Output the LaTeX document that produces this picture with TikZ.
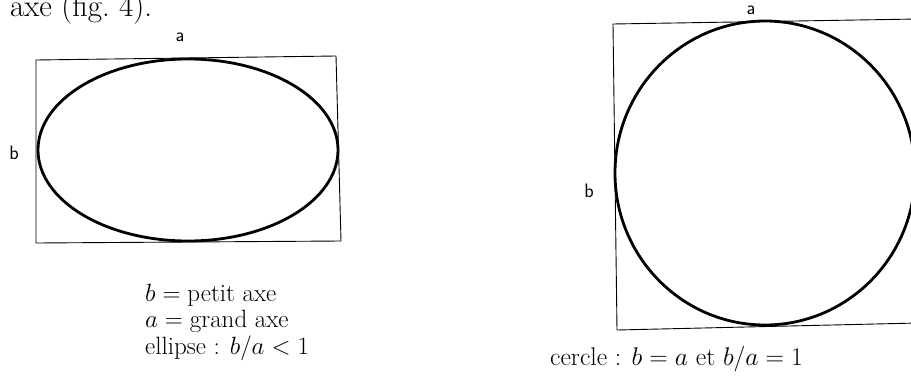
\RequirePackage{fix-cm}
\documentclass[tikz,border=0pt]{standalone}
\usepackage{fontspec}
\begin{document}
\begin{tikzpicture}[x=1pt,y=-1pt,
  thinrect/.style={line width=0.9pt, line join=miter},
  curve/.style={line width=2.8pt},
  lab/.style={font=\fontsize{19.5}{22}\selectfont\sffamily, inner sep=0pt},
  txt/.style={font=\fontsize{25}{30}\selectfont, inner sep=0pt, anchor=base west},
  ctxt/.style={font=\fontsize{25.6}{30}\selectfont, inner sep=0pt, anchor=base west},
  toptxt/.style={font=\fontsize{31}{36}\selectfont, inner sep=0pt, anchor=base west}]
\useasboundingbox (0,0) rectangle (911,386);
\clip (0,0) rectangle (911,386);
% top cropped text
\node[toptxt] (top) at (10,16) {axe (fig.~4).};
% left figure
\draw[thinrect] (36,60) -- (336,56) -- (341,241) -- (36,243) -- cycle;
\draw[curve] (188,150) ellipse [x radius=150, y radius=91];
\node[lab] (la) at (180,37) {a};
\node[lab] (lb) at (14,153) {b};
\node[txt] (t1) at (145,301) {$b=\mbox{petit axe}$};
\node[txt] (t2) at (145,327.5) {$a=\mbox{grand axe}$};
\node[txt] (t3) at (145,354) {ellipse : $b/a<1$};
% right figure
\draw[thinrect] (918,19) -- (613,24) -- (617,330) -- (918,323);
\draw[curve] (765,173) ellipse [x radius=150, y radius=152];
\node[lab] (ra) at (751,10) {a};
\node[lab] (rb) at (589,190.5) {b};
\node[ctxt] (t4) at (550,365) {cercle : $b=a$ et $b/a=1$};
\end{tikzpicture}
\end{document}
